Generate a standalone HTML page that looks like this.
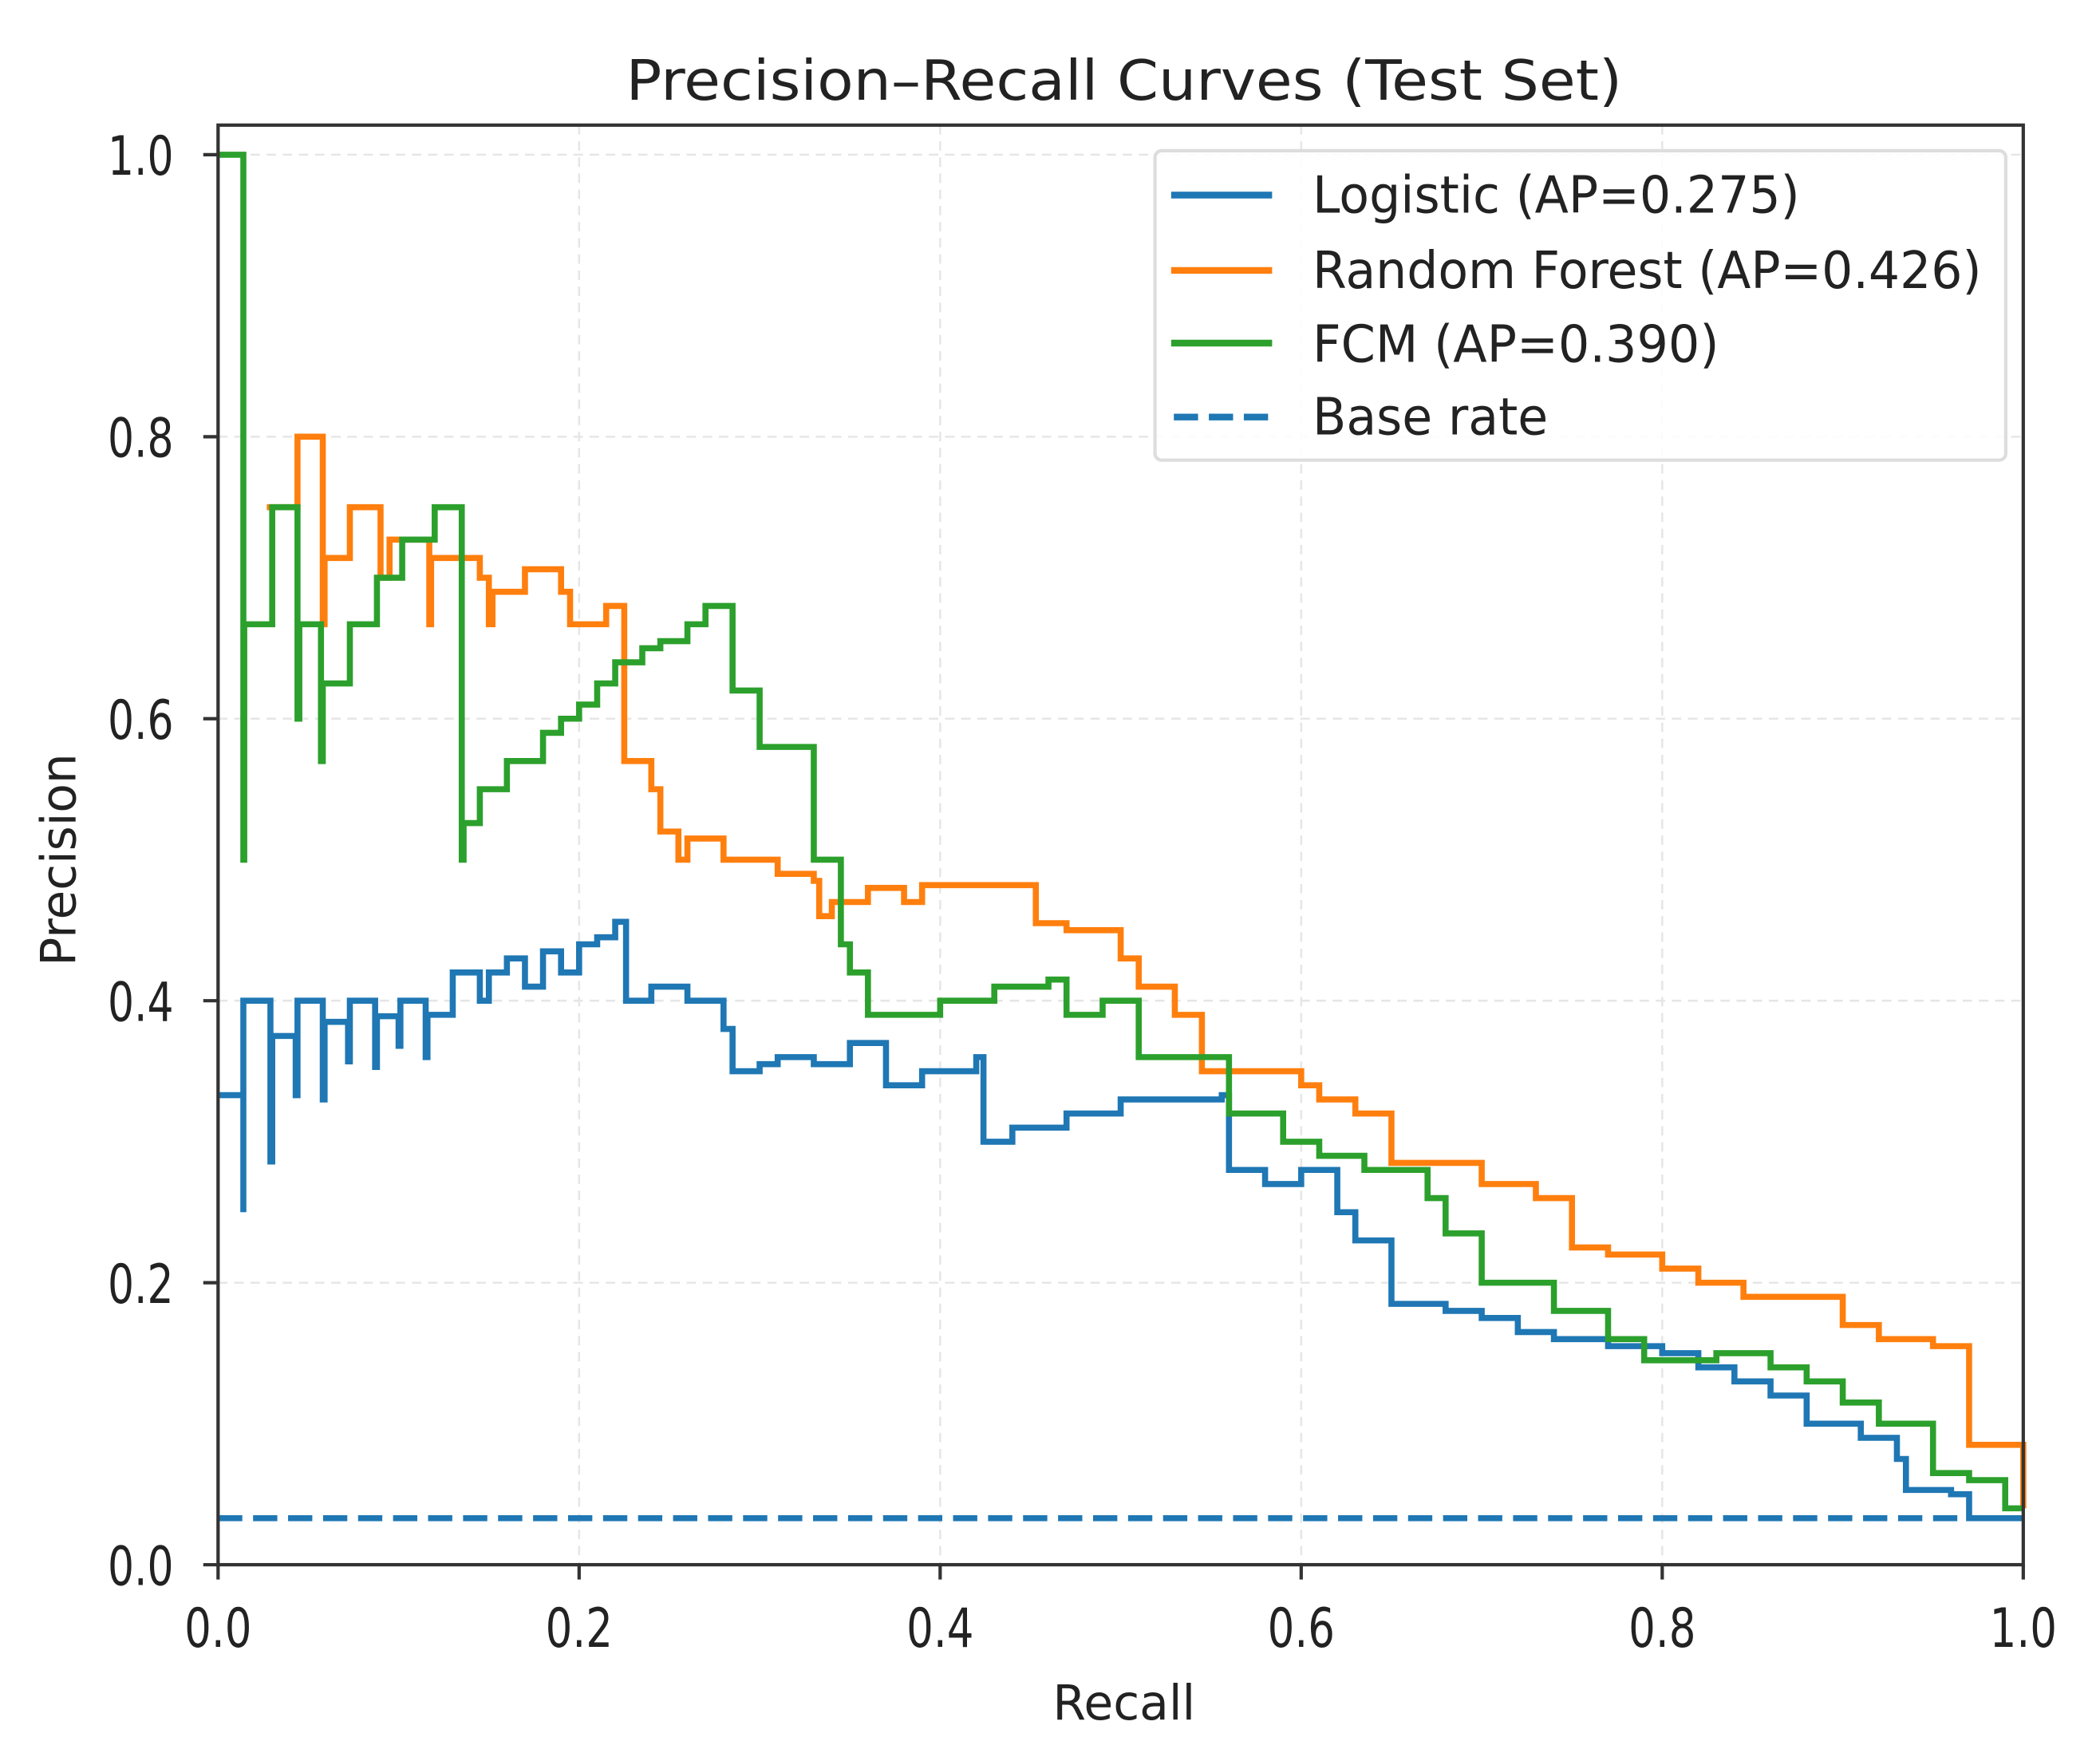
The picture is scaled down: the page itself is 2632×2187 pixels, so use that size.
<!DOCTYPE html>
<html><head><meta charset="utf-8"><style>
html,body{margin:0;padding:0;background:#fff;}
svg{display:block;}
text{font-family:"DejaVu Sans","Liberation Sans",sans-serif;fill:#222;}
</style></head><body>
<svg id="chart" width="2632" height="2187" viewBox="0 0 1560 1297" preserveAspectRatio="none" xmlns="http://www.w3.org/2000/svg">
<rect x="0" y="0" width="1560" height="1297" fill="#fff"/>
<g id="grid"></g>
<g id="series"></g>
<rect x="162" y="93" width="1341" height="1070" fill="none" stroke="#333" stroke-width="2.5"/>
<g id="ticks"></g>
<text x="465" y="74" font-size="41" textLength="740" lengthAdjust="spacingAndGlyphs">Precision–Recall Curves (Test Set)</text>
<text x="782" y="1278" font-size="36" textLength="106" lengthAdjust="spacingAndGlyphs">Recall</text>
<text transform="translate(56,718) rotate(-90)" font-size="36" textLength="158" lengthAdjust="spacingAndGlyphs">Precision</text>
<g>
<rect x="858" y="112" width="632" height="230" rx="5" fill="#fff" fill-opacity="0.85" stroke="#ddd" stroke-width="2.5"/>
<line x1="870" y1="145" x2="945" y2="145" stroke="#1f77b4" stroke-width="5"/>
<text x="975" y="158" font-size="38" textLength="362" lengthAdjust="spacingAndGlyphs">Logistic (AP=0.275)</text>
<line x1="870" y1="201" x2="945" y2="201" stroke="#ff7f0e" stroke-width="5"/>
<text x="975" y="214" font-size="38" textLength="497" lengthAdjust="spacingAndGlyphs">Random Forest (AP=0.426)</text>
<line x1="870" y1="255" x2="945" y2="255" stroke="#2ca02c" stroke-width="5"/>
<text x="975" y="269" font-size="38" textLength="302" lengthAdjust="spacingAndGlyphs">FCM (AP=0.390)</text>
<line x1="872" y1="310" x2="945" y2="310" stroke="#1f77b4" stroke-width="5" stroke-dasharray="18,8"/>
<text x="975" y="323" font-size="38" textLength="175" lengthAdjust="spacingAndGlyphs">Base rate</text>
</g>
</svg>
<script>
const ticks = [0, 0.2, 0.4, 0.6, 0.8, 1.0];
const tickLabels = ["0.0","0.2","0.4","0.6","0.8","1.0"];
const baseRate = 0.033;
const logRecall = [0,0.014,0.014,0.029,0.029,0.03,0.043,0.043,0.044,0.058,0.058,0.059,0.072,0.072,0.073,0.087,0.087,0.088,0.1,0.1,0.101,0.115,0.115,0.116,0.13,0.145,0.15,0.16,0.17,0.18,0.19,0.2,0.21,0.22,0.226,0.24,0.26,0.28,0.285,0.3,0.31,0.33,0.35,0.365,0.37,0.39,0.42,0.424,0.44,0.47,0.5,0.53,0.556,0.56,0.58,0.6,0.62,0.63,0.65,0.68,0.7,0.72,0.74,0.77,0.8,0.82,0.84,0.86,0.88,0.91,0.93,0.935,0.96,0.97,1.0];
const logPrec = [0.333,0.25,0.4,0.4,0.286,0.375,0.375,0.333,0.4,0.4,0.33,0.385,0.385,0.357,0.4,0.4,0.353,0.389,0.389,0.368,0.4,0.4,0.36,0.39,0.42,0.4,0.42,0.43,0.41,0.435,0.42,0.44,0.445,0.456,0.4,0.41,0.4,0.38,0.35,0.355,0.36,0.355,0.37,0.37,0.34,0.35,0.36,0.30,0.31,0.32,0.33,0.33,0.333,0.28,0.27,0.28,0.25,0.23,0.185,0.18,0.175,0.165,0.16,0.155,0.15,0.14,0.13,0.12,0.1,0.09,0.075,0.053,0.05,0.033,0.033];
const rfRecall = [0.027,0.044,0.058,0.059,0.073,0.09,0.095,0.117,0.118,0.145,0.15,0.152,0.17,0.19,0.195,0.215,0.225,0.24,0.245,0.255,0.26,0.28,0.3,0.31,0.33,0.333,0.34,0.36,0.38,0.39,0.453,0.47,0.5,0.51,0.53,0.545,0.6,0.61,0.63,0.65,0.7,0.73,0.75,0.77,0.8,0.82,0.845,0.9,0.92,0.95,0.97,1.0];
const rfPrec = [0.75,0.8,0.667,0.714,0.75,0.7,0.727,0.667,0.714,0.7,0.667,0.69,0.706,0.69,0.667,0.68,0.57,0.55,0.52,0.5,0.515,0.5,0.5,0.49,0.485,0.46,0.47,0.48,0.47,0.482,0.455,0.45,0.43,0.41,0.39,0.35,0.34,0.33,0.32,0.285,0.27,0.26,0.225,0.22,0.21,0.2,0.19,0.17,0.16,0.155,0.085,0.04];
const fcmRecall = [0,0.014,0.0145,0.03,0.044,0.045,0.057,0.058,0.073,0.088,0.102,0.12,0.135,0.136,0.145,0.16,0.18,0.19,0.2,0.21,0.22,0.235,0.245,0.26,0.27,0.285,0.3,0.33,0.345,0.35,0.36,0.4,0.43,0.46,0.47,0.49,0.51,0.55,0.56,0.59,0.61,0.635,0.67,0.68,0.7,0.72,0.74,0.77,0.79,0.83,0.86,0.88,0.9,0.92,0.95,0.97,0.99,1.0];
const fcmPrec = [1.0,0.5,0.667,0.75,0.6,0.667,0.57,0.625,0.667,0.7,0.727,0.75,0.5,0.526,0.55,0.57,0.59,0.6,0.61,0.625,0.64,0.65,0.655,0.667,0.68,0.62,0.58,0.5,0.44,0.42,0.39,0.4,0.41,0.415,0.39,0.4,0.36,0.36,0.32,0.3,0.29,0.28,0.26,0.235,0.2,0.2,0.18,0.16,0.145,0.15,0.14,0.13,0.115,0.1,0.065,0.06,0.04,0.04];

const NS='http://www.w3.org/2000/svg';
const X0=162,X1=1503,Y0=1163,Y1=115;
function sx(v){return X0+(X1-X0)*v;}
function sy(v){return Y0-(Y0-Y1)*v;}
const grid=document.getElementById('grid'), tk=document.getElementById('ticks'), ser=document.getElementById('series');
function mk(tag,attrs,parent){const e=document.createElementNS(NS,tag);for(const k in attrs)e.setAttribute(k,attrs[k]);parent.appendChild(e);return e;}
ticks.forEach((t,i)=>{
  const gx=mk('line',{x1:sx(t),x2:sx(t),y1:93,y2:1163,stroke:'#e6e6e6','stroke-width':1.5,'stroke-dasharray':'7,5'},grid);
  
  
  const gy=mk('line',{x1:162,x2:1503,y1:sy(t),y2:sy(t),stroke:'#e6e6e6','stroke-width':1.5,'stroke-dasharray':'7,5'},grid);
  
  
  mk('line',{x1:sx(t),x2:sx(t),y1:1163,y2:1174,stroke:'#333','stroke-width':2.5},tk);
  mk('line',{x1:151,x2:162,y1:sy(t),y2:sy(t),stroke:'#333','stroke-width':2.5},tk);
  const xl=mk('text',{x:sx(t)-25,y:1224,'font-size':40,textLength:50,lengthAdjust:'spacingAndGlyphs'},tk);
  xl.textContent=tickLabels[i];
  
  
  const yl=mk('text',{x:80,y:sy(t)+15,'font-size':40,textLength:49,lengthAdjust:'spacingAndGlyphs'},tk);
  yl.textContent=tickLabels[i];
  
  
});
function stepPath(r,p){
  let d='M'+sx(r[0])+','+sy(p[0]);
  for(let i=1;i<r.length;i++){d+=' H'+sx(r[i])+' V'+sy(p[i]);}
  return d;
}
const base=mk('line',{x1:sx(0),x2:sx(1),y1:sy(baseRate),y2:sy(baseRate),stroke:'#1f77b4','stroke-width':4.5,'stroke-dasharray':'18,8'},ser);


const l1=mk('path',{d:stepPath(logRecall,logPrec),fill:'none',stroke:'#1f77b4','stroke-width':4.5},ser);


const l2=mk('path',{d:stepPath(rfRecall,rfPrec),fill:'none',stroke:'#ff7f0e','stroke-width':4.5},ser);


const l3=mk('path',{d:stepPath(fcmRecall,fcmPrec),fill:'none',stroke:'#2ca02c','stroke-width':4.5},ser);


</script>
</body></html>
